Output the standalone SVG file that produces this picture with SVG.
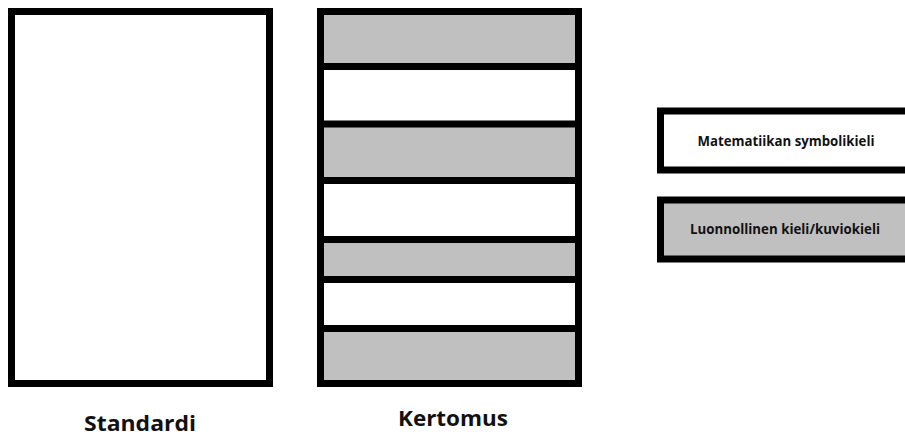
<svg xmlns="http://www.w3.org/2000/svg" width="905" height="438" viewBox="0 0 905 438">
<style>
.box{stroke:#000;stroke-width:7;}
.w{fill:#fff;}
.g{fill:#c0c0c0;}
.div{stroke:#000;stroke-width:7;}
.lbl{font-family:"Open Sans","Liberation Sans",sans-serif;font-weight:bold;fill:#111;text-anchor:middle;}
</style>
<rect width="905" height="438" fill="#fff"/>
<g id="standardi">
<rect class="box w" x="11.5" y="11.5" width="258" height="372"/>
<text class="lbl" x="140" y="431" font-size="21" textLength="112" lengthAdjust="spacingAndGlyphs">Standardi</text>
</g>
<g id="kertomus">
<rect class="g" x="320" y="11.5" width="259" height="55"/>
<rect class="w" x="320" y="66.5" width="259" height="57.5"/>
<rect class="g" x="320" y="124" width="259" height="56.5"/>
<rect class="w" x="320" y="180.5" width="259" height="59"/>
<rect class="g" x="320" y="239.5" width="259" height="40"/>
<rect class="w" x="320" y="279.5" width="259" height="49"/>
<rect class="g" x="320" y="328.5" width="259" height="55"/>
<g class="div">
<line x1="320" y1="66.5" x2="579" y2="66.5"/>
<line x1="320" y1="124" x2="579" y2="124"/>
<line x1="320" y1="180.5" x2="579" y2="180.5"/>
<line x1="320" y1="239.5" x2="579" y2="239.5"/>
<line x1="320" y1="279.5" x2="579" y2="279.5"/>
<line x1="320" y1="328.5" x2="579" y2="328.5"/>
</g>
<rect class="box" fill="none" x="320.5" y="11.5" width="258" height="372"/>
<text class="lbl" x="453" y="426" font-size="21" textLength="110" lengthAdjust="spacingAndGlyphs">Kertomus</text>
</g>
<g id="legend-symboli">
<rect class="box w" x="660.5" y="111" width="260" height="59"/>
<text class="lbl" x="786" y="146" font-size="13.5" textLength="177" lengthAdjust="spacingAndGlyphs">Matematiikan symbolikieli</text>
</g>
<g id="legend-luonnollinen">
<rect class="box g" x="660.5" y="200" width="260" height="59"/>
<text class="lbl" x="785" y="234" font-size="13.5" textLength="190" lengthAdjust="spacingAndGlyphs">Luonnollinen kieli/kuviokieli</text>
</g>
</svg>
